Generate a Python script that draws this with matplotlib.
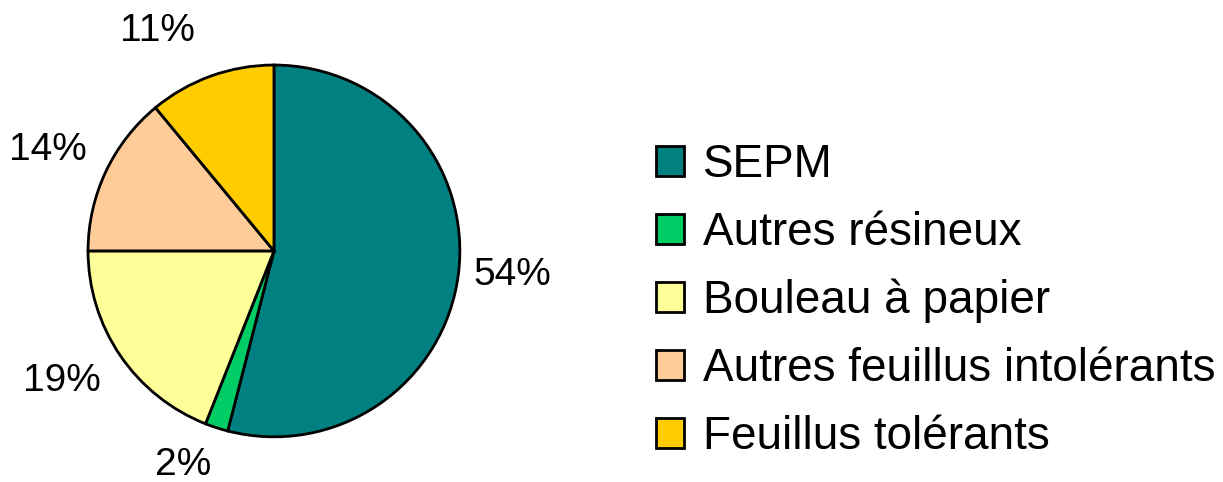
import matplotlib
matplotlib.use("Agg")
import matplotlib.pyplot as plt
import numpy as np

plt.rcParams['font.family'] = ['Liberation Sans', 'DejaVu Sans']

categories = ["SEPM", "Autres résineux", "Bouleau à papier",
              "Autres feuillus intolérants", "Feuillus tolérants"]
values = [54, 2, 19, 14, 11]
colors = ["#008080", "#00CC66", "#FFFF99", "#FFCC99", "#FFCC00"]

# label placement (distance from centre in radii, angle shift in degrees)
label_dist = [1.29, 1.25, 1.34, 1.33, 1.34]
label_shift = [1.4, -5, -2.7, 1.2, 8]

fig = plt.figure(figsize=(12.23, 4.82), dpi=100)
ax = fig.add_axes([0.072, 0.0934, 0.304, 0.772])

wedges, texts = ax.pie(
    values, colors=colors, startangle=90, counterclock=False, radius=1,
    wedgeprops=dict(edgecolor="black", linewidth=2))
ax.set_xlim(-1, 1)
ax.set_ylim(-1, 1)
ax.set_aspect("equal")

for w, v, d, s in zip(wedges, values, label_dist, label_shift):
    ang = np.deg2rad((w.theta1 + w.theta2) / 2 + s)
    ax.text(d * np.cos(ang), d * np.sin(ang), f"{v}%", fontsize=28,
            ha="center", va="center", clip_on=False)

fig.legend(wedges, categories, loc="center left",
           bbox_to_anchor=(0.536, 0.3755), frameon=False,
           fontsize=33, borderpad=0, borderaxespad=0,
           handlelength=0.63, handleheight=0.63, handletextpad=0.4,
           labelspacing=0.52)

fig.savefig("out.png", dpi=100)
